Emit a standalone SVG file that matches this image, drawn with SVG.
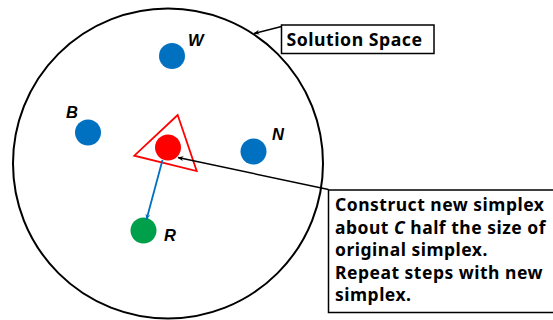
<svg xmlns="http://www.w3.org/2000/svg" width="553" height="320" viewBox="0 0 553 320">
<style>
.lbl{font-family:"Liberation Sans",Arial,sans-serif;font-weight:bold;font-style:italic;font-size:16.5px;fill:#000}
.txt{font-family:"Noto Sans","Liberation Sans",sans-serif;font-weight:bold;font-size:17.5px;letter-spacing:0.5px;fill:#000}
.dot{stroke:none}
</style>
<defs>
<marker id="ahk" viewBox="0 0 10 10" refX="9" refY="5" markerWidth="6" markerHeight="6" orient="auto" markerUnits="userSpaceOnUse">
<path d="M0,1 L10,5 L0,9 L3,5 Z" fill="#000"/>
</marker>
<marker id="ahb" viewBox="0 0 10 10" refX="9" refY="5" markerWidth="6" markerHeight="6" orient="auto" markerUnits="userSpaceOnUse">
<path d="M0,1 L10,5 L0,9 L3,5 Z" fill="#0070C0"/>
</marker>
</defs>
<rect width="553" height="320" fill="#fff"/>
<g id="space">
<circle cx="168" cy="163.5" r="155" fill="none" stroke="#000" stroke-width="2"/>
</g>
<g id="simplex">
<polygon points="177.7,115 134.3,155.7 196.7,171" fill="none" stroke="#FF0000" stroke-width="1.8"/>
</g>
<g id="W"><circle class="dot" cx="172" cy="56" r="13" fill="#0070C0"/><text class="lbl" x="188" y="46">W</text></g>
<g id="B"><circle class="dot" cx="88" cy="132.5" r="13" fill="#0070C0"/><text class="lbl" x="66" y="118">B</text></g>
<g id="N"><circle class="dot" cx="253.5" cy="151.5" r="13" fill="#0070C0"/><text class="lbl" x="272" y="140">N</text></g>
<g id="C"><circle class="dot" cx="168" cy="147.5" r="13" fill="#FF0000"/></g>
<g id="R"><circle class="dot" cx="143.5" cy="230.5" r="13" fill="#00A04A"/><text class="lbl" x="164" y="241">R</text></g>
<g id="solution-box">
<rect x="281.5" y="25" width="152.5" height="28.5" fill="#fff" stroke="#000" stroke-width="1.5"/>
<text class="txt" x="286.5" y="46" textLength="136" lengthAdjust="spacingAndGlyphs">Solution Space</text>
</g>
<g id="note-box">
<rect x="328.5" y="190" width="230" height="122.5" fill="#fff" stroke="#000" stroke-width="1.5"/>
<text class="txt" x="335" y="211">Construct new simplex</text>
<text class="txt" x="335" y="233.5">about <tspan font-style="italic">C</tspan> half the size of</text>
<text class="txt" x="335" y="256">original simplex.</text>
<text class="txt" x="335" y="278.5">Repeat steps with new</text>
<text class="txt" x="335" y="301">simplex.</text>
</g>
<g id="connectors">
<line x1="281.5" y1="26.5" x2="254" y2="33.5" stroke="#000" stroke-width="1.5" marker-end="url(#ahk)"/>
<line x1="328.5" y1="189.5" x2="178" y2="157.5" stroke="#000" stroke-width="1.5" marker-end="url(#ahk)"/>
<line x1="162.5" y1="160" x2="146.5" y2="219.5" stroke="#0070C0" stroke-width="1.8" marker-end="url(#ahb)"/>
</g>
</svg>
